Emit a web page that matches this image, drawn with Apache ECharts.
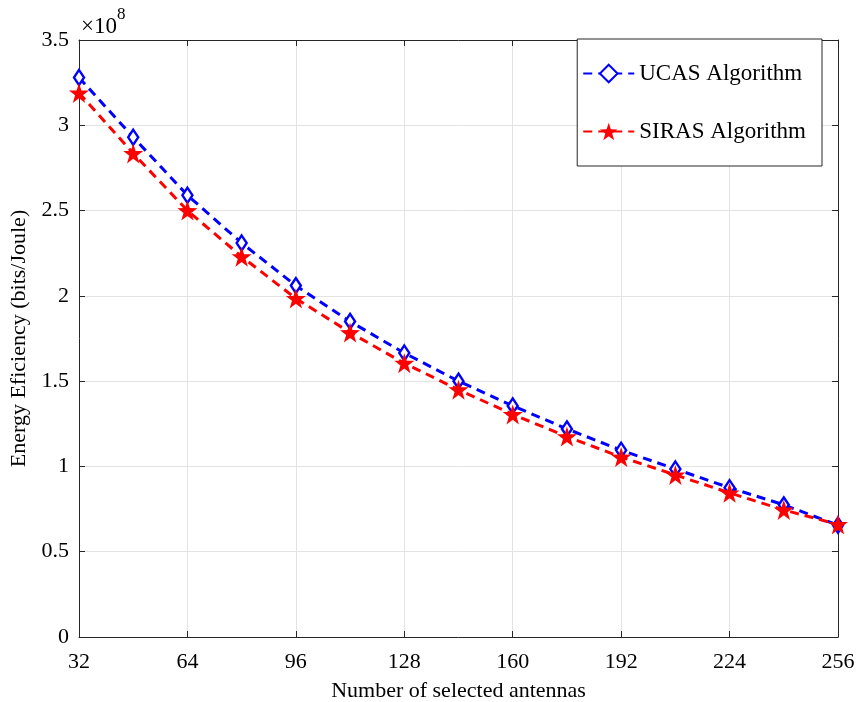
<!DOCTYPE html>
<html>
<head>
<meta charset="utf-8">
<script src="https://cdn.jsdelivr.net/npm/echarts@6/dist/echarts.min.js"></script>
<style>html,body{margin:0;padding:0;background:#fff}#c{width:861px;height:702px}</style>
</head>
<body>
<div id="c"></div>
<script>
var antennas = [32, 48, 64, 80, 96, 112, 128, 144, 160, 176, 192, 208, 224, 240, 256];
var ucas  = [3.28, 2.93, 2.59, 2.31, 2.06, 1.85, 1.665, 1.50, 1.355, 1.22, 1.095, 0.985, 0.875, 0.775, 0.655];
var siras = [3.19, 2.835, 2.50, 2.23, 1.985, 1.785, 1.605, 1.45, 1.305, 1.175, 1.055, 0.95, 0.845, 0.745, 0.66];
var xTicks = [32, 64, 96, 128, 160, 192, 224, 256];
var yTicks = [0, 0.5, 1, 1.5, 2, 2.5, 3, 3.5];
var seriesNames = ['UCAS Algorithm', 'SIRAS Algorithm'];

var FONT = 'Liberation Serif';
var AX = '#262626';
var star = 'path://M50,0 L61.8,35.1 L98.9,35.5 L69.1,57.6 L80.2,93 L50,71.5 L19.8,93 L30.9,57.6 L1.1,35.5 L38.2,35.1 Z';

function pair(xs, ys){ return xs.map(function(x,i){ return [x, ys[i]]; }); }

var chart = echarts.init(document.getElementById('c'), null, {renderer:'canvas'});
var axisCommon = {
  axisLine:{show:true, onZero:false, lineStyle:{color:AX, width:1}},
  axisTick:{show:true, inside:true, length:6, lineStyle:{color:AX}},
};
chart.setOption({
  animation:false,
  backgroundColor:'#fff',
  grid:{left:79, right:23, top:40, bottom:65, containLabel:false, outerBoundsMode:'none'},
  legend:{
    data:seriesNames, orient:'vertical', right:39, top:39,
    backgroundColor:'#fff', borderColor:AX, borderWidth:1,
    padding:[23,16,23,5], itemGap:35, itemWidth:51, itemHeight:22,
    textStyle:{fontFamily:FONT, fontSize:23, color:'#000'}
  },
  xAxis:[
    Object.assign({type:'value', min:32, max:256, interval:32, position:'bottom',
      name:'Number of selected antennas', nameLocation:'middle', nameGap:43,
      nameTextStyle:{fontFamily:FONT, fontSize:22, color:'#000'},
      axisLabel:{fontFamily:FONT, fontSize:22, color:'#000', margin:14},
      splitLine:{show:true, lineStyle:{color:'#e3e3e3', width:1}}}, axisCommon),
    Object.assign({type:'value', min:32, max:256, interval:32, position:'top',
      axisLabel:{show:false}, splitLine:{show:false}}, axisCommon)
  ],
  yAxis:[
    Object.assign({type:'value', min:0, max:3.5, interval:0.5, position:'left',
      name:'Energy Eficiency (bits/Joule)', nameLocation:'middle', nameGap:48, nameRotate:90,
      nameTextStyle:{fontFamily:FONT, fontSize:22, color:'#000'},
      axisLabel:{fontFamily:FONT, fontSize:22, color:'#000', margin:10,
        formatter:function(v){ return String(v); }},
      splitLine:{show:true, lineStyle:{color:'#e3e3e3', width:1}}}, axisCommon),
    Object.assign({type:'value', min:0, max:3.5, interval:0.5, position:'right',
      axisLabel:{show:false}, splitLine:{show:false}}, axisCommon)
  ],
  graphic:[{
    type:'text', left:81, top:6,
    style:{
      text:'{a|×10}{b|8}', fill:'#000',
      rich:{
        a:{fontFamily:FONT, fontSize:23, verticalAlign:'bottom', padding:[9,0,0,0]},
        b:{fontFamily:FONT, fontSize:17, verticalAlign:'top'}
      }
    }
  }],
  series:[
    {name:seriesNames[0], type:'line', data:pair(antennas, ucas),
      symbol:'diamond', symbolSize:[10,15], showAllSymbol:true,
      lineStyle:{color:'#0000ff', width:3, type:[9,6]},
      itemStyle:{color:'#ffffff', borderColor:'#0000ff', borderWidth:2.5},
      z:2},
    {name:seriesNames[1], type:'line', data:pair(antennas, siras),
      symbol:star, symbolSize:20, showAllSymbol:true,
      lineStyle:{color:'#ff0000', width:3, type:[9,6]},
      itemStyle:{color:'#ff0000', borderColor:'#ff0000', borderWidth:0},
      z:3}
  ]
});
</script>
</body>
</html>
